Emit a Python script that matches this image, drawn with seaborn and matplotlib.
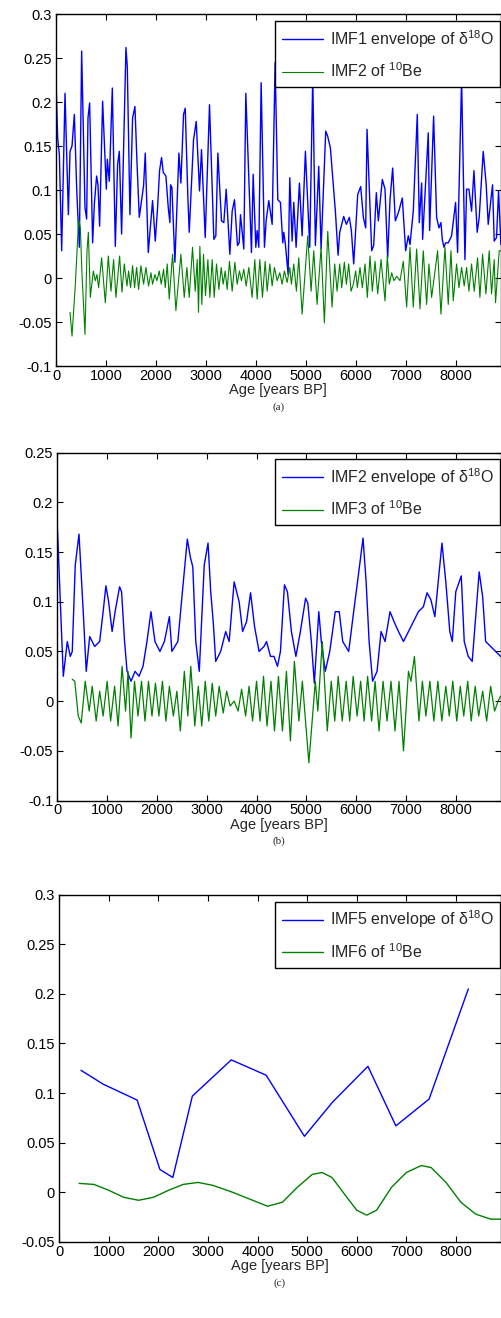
import matplotlib
matplotlib.use("Agg")
import matplotlib.pyplot as plt
import seaborn as sns
from matplotlib.ticker import FuncFormatter, MultipleLocator

# ---- panel (a): IMF1 envelope of d18O / IMF2 of 10Be ----
a_blue_age = [0, 33, 67, 113, 180, 247, 280, 320, 367, 413, 433, 467, 513, 580, 613, 640, 673,
              733, 767, 813, 840, 873, 933, 1007, 1027, 1067, 1127, 1187, 1233, 1267, 1313,
              1400, 1427, 1480, 1533, 1580, 1620, 1667, 1720, 1753, 1787, 1847, 1933, 1987,
              2033, 2073, 2113, 2147, 2200, 2247, 2280, 2293, 2320, 2380, 2460, 2500, 2553,
              2587, 2640, 2667, 2753, 2807, 2873, 2913, 2987, 3073, 3160, 3200, 3240, 3313,
              3360, 3407, 3480, 3527, 3573, 3633, 3667, 3693, 3760, 3800, 3913, 3947, 4000,
              4027, 4060, 4107, 4173, 4207, 4260, 4327, 4387, 4440, 4493, 4540, 4560, 4593,
              4647, 4680, 4727, 4760, 4807, 4873, 4927, 4993, 5080, 5140, 5193, 5260, 5307,
              5400, 5440, 5493, 5560, 5593, 5647, 5680, 5760, 5813, 5873, 5913, 5960, 6040,
              6100, 6153, 6200, 6227, 6320, 6360, 6413, 6453, 6533, 6587, 6640, 6687, 6740,
              6793, 6840, 6873, 6933, 7000, 7053, 7087, 7153, 7233, 7273, 7320, 7340, 7453,
              7480, 7560, 7620, 7667, 7707, 7733, 7767, 7800, 7853, 7920, 8000, 8040, 8120,
              8187, 8220, 8267, 8320, 8367, 8433, 8473, 8553, 8613, 8653, 8740, 8773, 8820,
              8860, 8907]
a_blue_val = [0.224, 0.159, 0.140, 0.031, 0.210, 0.072, 0.144, 0.150, 0.186, 0.103, 0.076, 0.035,
              0.258, 0.080, 0.067, 0.182, 0.199, 0.040, 0.084, 0.116, 0.106, 0.059, 0.201, 0.101,
              0.135, 0.110, 0.216, 0.036, 0.129, 0.144, 0.050, 0.262, 0.240, 0.072, 0.182, 0.195,
              0.133, 0.069, 0.091, 0.105, 0.142, 0.029, 0.088, 0.042, 0.080, 0.122, 0.137, 0.120,
              0.116, 0.080, 0.063, 0.106, 0.103, 0.018, 0.142, 0.108, 0.186, 0.193, 0.091, 0.052,
              0.157, 0.178, 0.099, 0.146, 0.046, 0.197, 0.044, 0.048, 0.142, 0.065, 0.063, 0.101,
              0.027, 0.076, 0.089, 0.037, 0.040, 0.072, 0.033, 0.210, 0.029, 0.118, 0.035, 0.054,
              0.035, 0.222, 0.035, 0.065, 0.088, 0.061, 0.245, 0.089, 0.086, 0.040, 0.052, 0.038,
              0.004, 0.114, 0.042, 0.086, 0.035, 0.108, 0.048, 0.144, 0.035, 0.229, 0.037, 0.127,
              0.033, 0.167, 0.161, 0.148, 0.099, 0.076, 0.026, 0.052, 0.070, 0.061, 0.069, 0.054,
              0.016, 0.095, 0.104, 0.069, 0.057, 0.169, 0.031, 0.037, 0.097, 0.065, 0.112, 0.101,
              0.023, 0.089, 0.125, 0.065, 0.072, 0.078, 0.091, 0.031, 0.048, 0.038, 0.076, 0.186,
              0.063, 0.108, 0.044, 0.165, 0.054, 0.184, 0.069, 0.057, 0.063, 0.044, 0.035, 0.040,
              0.040, 0.048, 0.086, 0.029, 0.226, 0.021, 0.101, 0.101, 0.076, 0.122, 0.052, 0.069,
              0.144, 0.106, 0.061, 0.106, 0.042, 0.046, 0.099, 0.038]

a_green_age = [280, 320, 387, 453, 487, 520, 547, 580, 620, 647, 687, 747, 787, 820, 853, 913, 987,
               1047, 1100, 1153, 1200, 1273, 1320, 1367, 1420, 1453, 1493, 1533, 1573, 1613,
               1653, 1700, 1753, 1800, 1853, 1900, 1933, 1980, 2020, 2067, 2107, 2153, 2187,
               2227, 2267, 2333, 2400, 2500, 2567, 2620, 2667, 2733, 2787, 2827, 2853, 2880,
               2920, 2953, 2993, 3040, 3080, 3127, 3167, 3213, 3260, 3307, 3347, 3387, 3427,
               3473, 3527, 3580, 3627, 3673, 3713, 3760, 3807, 3860, 3927, 3980, 4027, 4080,
               4133, 4187, 4227, 4280, 4327, 4373, 4427, 4480, 4527, 4573, 4627, 4680, 4713,
               4760, 4813, 4860, 4927, 5040, 5107, 5160, 5227, 5307, 5373, 5440, 5527, 5580,
               5627, 5680, 5720, 5773, 5813, 5860, 5907, 5953, 6000, 6033, 6087, 6133, 6187,
               6233, 6287, 6333, 6387, 6440, 6507, 6587, 6633, 6673, 6720, 6767, 6820, 6887,
               6953, 7020, 7087, 7153, 7220, 7287, 7353, 7420, 7467, 7520, 7640, 7707, 7787,
               7853, 7907, 7953, 8020, 8067, 8120, 8173, 8220, 8267, 8320, 8373, 8440, 8487,
               8540, 8607, 8673, 8720, 8773, 8800, 8873, 8920]
a_green_val = [-0.039, -0.066, -0.007, 0.067, 0.057, 0.004, -0.026, -0.064, 0.031, 0.052, -0.022,
               0.008, -0.003, 0.004, -0.011, 0.023, -0.028, 0.025, -0.015, 0.021, -0.022, 0.025,
               -0.016, 0.016, -0.009, 0.008, -0.011, 0.014, -0.011, 0.012, -0.013, 0.014, -0.007,
               0.012, -0.009, 0.006, -0.007, 0.004, -0.003, 0.008, -0.007, 0.010, -0.011, 0.016,
               -0.024, 0.027, -0.037, 0.027, -0.022, 0.012, -0.022, 0.035, -0.015, 0.021, -0.039,
               0.036, -0.030, 0.027, -0.020, 0.021, -0.022, 0.021, -0.022, 0.016, -0.013, 0.012,
               -0.007, 0.008, -0.013, 0.019, -0.015, 0.018, -0.007, 0.008, -0.003, 0.010, -0.009,
               0.012, -0.022, 0.021, -0.024, 0.021, -0.022, 0.019, -0.015, 0.016, -0.009, 0.012,
               -0.003, 0.006, -0.007, 0.008, -0.005, 0.012, -0.007, 0.016, -0.015, 0.023, -0.041,
               0.048, -0.015, 0.031, -0.030, 0.035, -0.051, 0.053, -0.033, 0.016, -0.015, 0.016,
               -0.011, 0.018, -0.007, 0.016, -0.015, -0.007, 0.008, -0.011, 0.012, -0.011, 0.016,
               -0.022, 0.025, -0.015, 0.019, -0.018, 0.021, -0.026, 0.025, -0.007, 0.006, -0.003,
               0.002, -0.003, 0.019, -0.033, 0.035, -0.033, 0.033, -0.035, 0.031, -0.030, 0.016,
               -0.022, 0.031, -0.041, 0.035, -0.030, 0.031, -0.026, 0.016, -0.011, 0.012, -0.009,
               0.012, -0.015, 0.016, -0.015, 0.023, -0.022, 0.027, -0.018, 0.031, -0.018, 0.021,
               -0.028, 0.031, 0.031]

# ---- panel (b): IMF2 envelope of d18O / IMF3 of 10Be ----
b_blue_age = [0, 60, 120, 200, 260, 300, 360, 435, 520, 580, 650, 750, 850, 920, 975, 1030,
              1100, 1160, 1250, 1290, 1350, 1400, 1480, 1560, 1640, 1720, 1800, 1880, 1960,
              2060, 2150, 2250, 2300, 2420, 2530, 2610, 2670, 2720, 2780, 2850, 2950, 3026,
              3080, 3130, 3180, 3280, 3380, 3450, 3550, 3650, 3720, 3800, 3880, 3960, 4050,
              4150, 4200, 4280, 4350, 4420, 4480, 4560, 4620, 4700, 4790, 4880, 4985, 5030,
              5100, 5160, 5250, 5300, 5380, 5470, 5580, 5660, 5730, 5850, 5950, 6040, 6138,
              6200, 6260, 6330, 6420, 6500, 6580, 6680, 6760, 6850, 6950, 7050, 7150, 7250,
              7350, 7423, 7500, 7580, 7723, 7800, 7880, 7930, 8000, 8110, 8170, 8250, 8330,
              8470, 8540, 8600, 8700, 8800, 8900]
b_blue_val = [0.176, 0.10, 0.025, 0.06, 0.045, 0.05, 0.137, 0.168, 0.09, 0.03, 0.065, 0.055,
              0.06, 0.09, 0.116, 0.10, 0.07, 0.09, 0.115, 0.11, 0.06, 0.03, 0.02, 0.03, 0.025,
              0.035, 0.06, 0.09, 0.06, 0.05, 0.06, 0.085, 0.05, 0.06, 0.12, 0.163, 0.145,
              0.135, 0.06, 0.03, 0.137, 0.159, 0.11, 0.08, 0.04, 0.05, 0.07, 0.06, 0.12, 0.10,
              0.07, 0.08, 0.109, 0.075, 0.05, 0.055, 0.06, 0.045, 0.045, 0.035, 0.05, 0.117,
              0.11, 0.07, 0.045, 0.07, 0.1035, 0.0985, 0.06, 0.018, 0.09, 0.06, 0.03, 0.05,
              0.09, 0.09, 0.06, 0.05, 0.09, 0.125, 0.164, 0.12, 0.06, 0.02, 0.03, 0.07, 0.06,
              0.09, 0.08, 0.07, 0.06, 0.07, 0.08, 0.09, 0.095, 0.109, 0.102, 0.085, 0.159, 0.12,
              0.07, 0.06, 0.11, 0.126, 0.06, 0.045, 0.04, 0.13, 0.105, 0.06, 0.055, 0.05, 0.045]

b_green_age = [300, 350, 420, 480, 560, 640, 700, 780, 850, 920, 1000, 1070, 1150, 1220, 1300,
               1370, 1420, 1480, 1550, 1620, 1690, 1760, 1830, 1900, 1970, 2040, 2110, 2180,
               2250, 2330, 2400, 2470, 2550, 2620, 2680, 2760, 2830, 2900, 2970, 3040, 3110,
               3180, 3250, 3330, 3400, 3470, 3550, 3630, 3700, 3780, 3850, 3920, 4000, 4070,
               4140, 4210, 4290, 4360, 4440, 4520, 4600, 4680, 4760, 4850, 4920, 5050, 5180,
               5230, 5320, 5420, 5500, 5570, 5640, 5720, 5800, 5870, 5940, 6020, 6090, 6160,
               6230, 6310, 6380, 6460, 6540, 6620, 6700, 6780, 6860, 6950, 7050, 7100, 7170,
               7260, 7330, 7400, 7480, 7560, 7640, 7720, 7800, 7870, 7940, 8020, 8090, 8160,
               8240, 8310, 8390, 8460, 8540, 8620, 8700, 8780, 8850, 8900]
b_green_val = [0.022, 0.02, -0.015, -0.022, 0.02, -0.01, 0.015, -0.02, 0.01, -0.015, 0.02,
               -0.02, 0.015, -0.025, 0.035, -0.01, 0.03, -0.037, 0.02, -0.015, 0.02, -0.02,
               0.02, -0.015, 0.018, -0.015, 0.02, -0.02, 0.015, -0.015, 0.01, -0.03, 0.03,
               -0.015, 0.035, -0.025, 0.015, -0.025, 0.02, -0.02, 0.018, -0.015, 0.015, -0.012,
               0.01, -0.005, 0.0, -0.01, 0.012, -0.015, 0.015, -0.02, 0.02, -0.02, 0.025,
               -0.025, 0.02, -0.03, 0.025, -0.03, 0.03, -0.04, 0.04, -0.02, 0.02, -0.062, 0.02,
               -0.01, 0.06, -0.03, 0.02, -0.02, 0.025, -0.02, 0.02, -0.02, 0.025, -0.015, 0.02,
               -0.02, 0.025, -0.02, 0.02, -0.03, 0.02, -0.02, 0.02, -0.03, 0.02, -0.05, 0.03,
               0.02, 0.045, -0.02, 0.02, -0.015, 0.02, -0.02, 0.02, -0.02, 0.015, -0.015, 0.02,
               -0.02, 0.015, -0.015, 0.02, -0.02, 0.015, -0.015, 0.01, -0.02, 0.015, -0.01,
               0.0, 0.005]

# ---- panel (c): IMF5 envelope of d18O / IMF6 of 10Be ----
c_blue_age = [437, 886, 1570, 2030, 2290, 2684, 3469, 4173, 4944, 5513, 6225, 6789, 7459, 8250]
c_blue_val = [0.123, 0.109, 0.093, 0.023, 0.015, 0.097, 0.1335, 0.118, 0.0565, 0.091, 0.127,
              0.067, 0.094, 0.205]
c_green_age = [400, 700, 1000, 1300, 1600, 1900, 2200, 2500, 2800, 3100, 3500, 3900, 4200, 4500,
               4800, 5100, 5300, 5500, 5800, 6000, 6200, 6400, 6700, 7000, 7300, 7500, 7800, 8100,
               8400, 8700, 8900]
c_green_val = [0.009, 0.008, 0.002, -0.005, -0.008, -0.005, 0.002, 0.008, 0.010, 0.007, 0.0,
               -0.008, -0.014, -0.01, 0.005, 0.018, 0.02, 0.015, -0.005, -0.018, -0.023, -0.018,
               0.005, 0.02, 0.027, 0.025, 0.01, -0.01, -0.022, -0.027, -0.027]

sns.set_style("ticks")
plt.rcParams['font.family'] = ['Liberation Sans', 'DejaVu Sans']
plt.rcParams['mathtext.fontset'] = 'custom'
plt.rcParams['mathtext.rm'] = 'Liberation Sans'
plt.rcParams['axes.unicode_minus'] = False

BLUE = '#0000ff'
GREEN = '#008000'

panels = [
    dict(pos=[0.1116, 0.7223, 0.8855, 0.267], ylim=(-0.1, 0.3), tag='(a)', ly=0.980,
         blue=(a_blue_age, a_blue_val), green=(a_green_age, a_green_val),
         lb='IMF1 envelope of δ$^{\\mathrm{18}}$O', lg='IMF2 of $^{\\mathrm{10}}$Be', lwg=0.8),
    dict(pos=[0.1142, 0.3926, 0.8830, 0.264], ylim=(-0.1, 0.25), tag='(b)', ly=0.981,
         blue=(b_blue_age, b_blue_val), green=(b_green_age, b_green_val),
         lb='IMF2 envelope of δ$^{\\mathrm{18}}$O', lg='IMF3 of $^{\\mathrm{10}}$Be', lwg=0.9),
    dict(pos=[0.1181, 0.0577, 0.8790, 0.2635], ylim=(-0.05, 0.3), tag='(c)', ly=0.979,
         blue=(c_blue_age, c_blue_val), green=(c_green_age, c_green_val),
         lb='IMF5 envelope of δ$^{\\mathrm{18}}$O', lg='IMF6 of $^{\\mathrm{10}}$Be', lwg=1.0),
]

fig = plt.figure(figsize=(5.02, 13.18), dpi=100)
for p in panels:
    ax = fig.add_axes(p['pos'])
    sns.lineplot(x=p['blue'][0], y=p['blue'][1], ax=ax, color=BLUE, linewidth=1.0,
                 label=p['lb'], estimator=None)
    sns.lineplot(x=p['green'][0], y=p['green'][1], ax=ax, color=GREEN, linewidth=p['lwg'],
                 label=p['lg'], estimator=None)
    ax.set_xlim(0, 8900)
    ax.set_ylim(*p['ylim'])
    ax.xaxis.set_major_locator(MultipleLocator(1000))
    ax.yaxis.set_major_locator(MultipleLocator(0.05))
    ax.xaxis.set_major_formatter(FuncFormatter(lambda v, _: '%g' % v))
    ax.yaxis.set_major_formatter(FuncFormatter(lambda v, _: '%g' % round(v, 3)))
    ax.tick_params(direction='in', top=True, right=True, length=4, width=0.8,
                   labelsize=10.5, pad=3, colors='black')
    ax.tick_params(axis='x', pad=2)
    for s in ax.spines.values():
        s.set_linewidth(1.0)
        s.set_color('black')
    ax.set_xlabel('Age [years BP]', fontsize=10.5, labelpad=0.5)
    ax.set_ylabel('')
    leg = ax.legend(loc='upper right', bbox_to_anchor=(0.999, p['ly']), fontsize=11.5,
                    frameon=True, fancybox=False, edgecolor='black', framealpha=1,
                    handlelength=2.6, labelspacing=0.75, borderpad=0.42, borderaxespad=0,
                    handletextpad=0.4)
    leg.get_frame().set_linewidth(1.0)
    ax.text(0.5, -0.118, p['tag'], transform=ax.transAxes, ha='center', va='center',
            fontsize=8, family='Liberation Serif')

fig.savefig('out.png', dpi=100)
